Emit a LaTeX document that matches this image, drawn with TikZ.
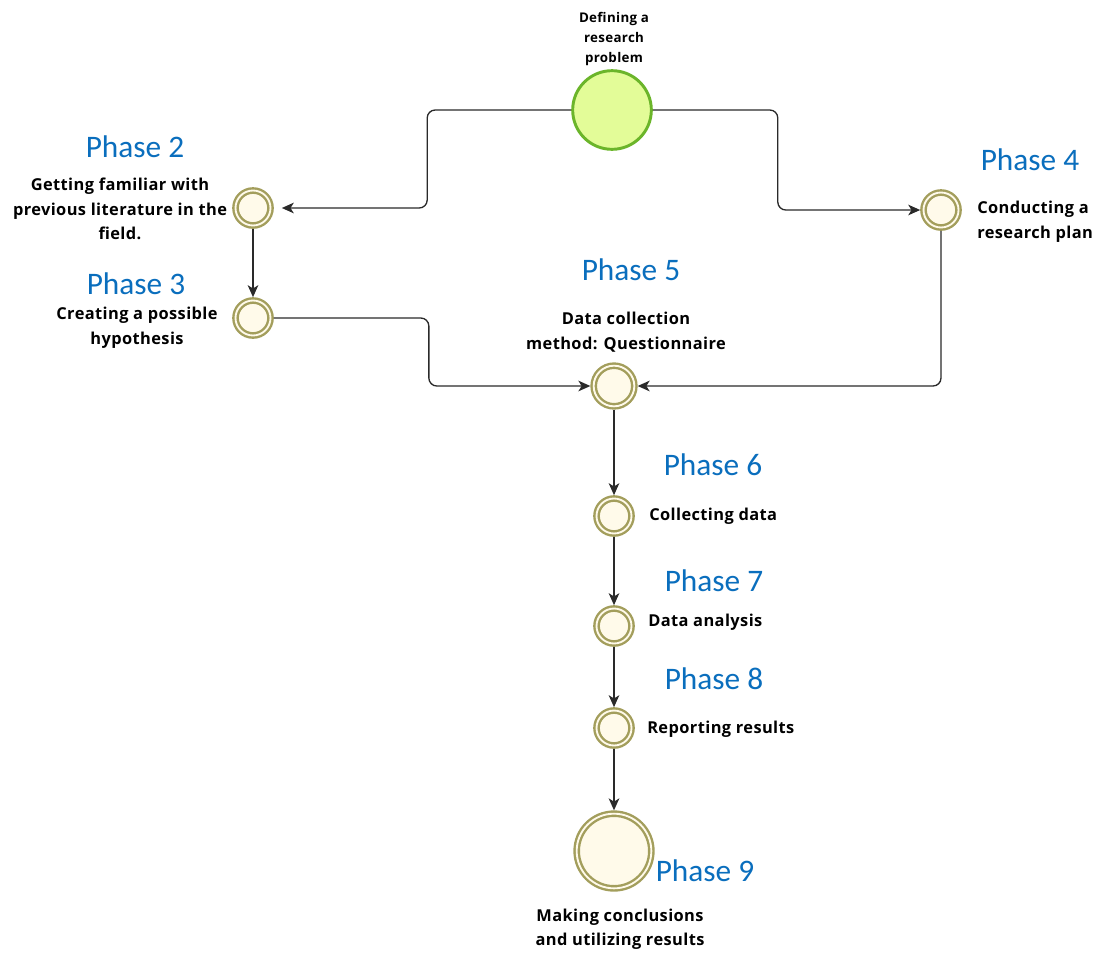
\documentclass[tikz,border=0pt]{standalone}
\usepackage{fontspec}
\usetikzlibrary{arrows.meta}
\newfontfamily\lblfont{Open Sans}[LetterSpace=2.5]
\newfontfamily\phasefont{Carlito}
\definecolor{ringc}{HTML}{A39E5C}
\definecolor{creamc}{HTML}{FFFAEA}
\definecolor{startfill}{HTML}{E3FC98}
\definecolor{startdraw}{HTML}{6BB52A}
\definecolor{phaseblue}{HTML}{0A6EBD}
\definecolor{flowc}{HTML}{2A2A2A}
\begin{document}
\begin{tikzpicture}[x=0.75pt,y=-0.75pt,
  evt/.style={circle, draw=ringc, fill=creamc, line width=1.8pt,
    double=creamc, double distance=1.4pt, inner sep=0pt,
    minimum size=26.25pt, outer sep=2.5pt},
  bigevt/.style={evt, minimum size=56pt},
  midevt/.style={evt, minimum size=30.5pt},
  startevt/.style={circle, draw=startdraw, fill=startfill, line width=2.2pt,
    inner sep=0pt, minimum size=59pt, outer sep=1.1pt},
  flow/.style={draw=flowc, line width=1pt, rounded corners=6pt,
    -{Stealth[length=9pt,width=8pt,inset=2.5pt]}},
  lbl/.style={font=\lblfont\bfseries\fontsize{12.3pt}{18.4pt}\selectfont, align=center, inner sep=0pt},
  smalllbl/.style={lbl, font=\lblfont\bfseries\fontsize{10pt}{15pt}\selectfont},
  phase/.style={font=\phasefont\fontsize{23.5pt}{26pt}\selectfont, text=phaseblue, inner sep=0pt}
]
\useasboundingbox (0,0) rectangle (1094,953);

% events
\node[startevt] (start) at (612,110) {};
\node[evt] (p2) at (253,208) {};
\node[evt] (p3) at (253,318) {};
\node[evt] (p4) at (941,210) {};
\node[midevt] (p5) at (614,386) {};
\node[evt] (p6) at (614,516) {};
\node[evt] (p7) at (614,626) {};
\node[evt] (p8) at (614,728) {};
\node[bigevt] (p9) at (614,851) {};

% sequence flows
\draw[flow, shorten >=6pt] (start.west) -- ++(-144,0) |- (p2.east);
\draw[flow] (start.east) -- ++(125,0) |- (p4.west);
\draw[flow] (p2.south) -- (p3.north);
\draw[flow] (p3.east) -- ++(155,0) |- (p5.west);
\draw[flow] (p4.south) |- (p5.east);
\draw[flow] (p5.south) -- (p6.north);
\draw[flow] (p6.south) -- (p7.north);
\draw[flow] (p7.south) -- (p8.north);
\draw[flow] (p8.south) -- (p9.north);

% phase headings
\node[phase] (h2) at (135,147) {Phase 2};
\node[phase] (h3) at (136,284) {Phase 3};
\node[phase] (h4) at (1030,160) {Phase 4};
\node[phase] (h5) at (631,270) {Phase 5};
\node[phase] (h6) at (713,465) {Phase 6};
\node[phase] (h7) at (714,581) {Phase 7};
\node[phase] (h8) at (714,679) {Phase 8};
\node[phase] (h9) at (705,871) {Phase 9};

% descriptions
\node[smalllbl] (t1) at (614,39) {Defining a\\research\\problem};
\node[lbl] (t2) at (120,209) {Getting familiar with\\previous literature in the\\field.};
\node[lbl] (t3) at (137,328) {Creating a possible\\hypothesis};
\node[lbl, anchor=west, align=left] (t4) at (977,222) {Conducting a\\research plan};
\node[lbl] (t5) at (626,332) {Data collection\\method: Questionnaire};
\node[lbl, anchor=west] (t6) at (649,516) {Collecting data};
\node[lbl, anchor=west] (t7) at (648,622) {Data analysis};
\node[lbl, anchor=west] (t8) at (647,729) {Reporting results};
\node[lbl] (t9) at (620,929) {Making conclusions\\and utilizing results};
\end{tikzpicture}
\end{document}
